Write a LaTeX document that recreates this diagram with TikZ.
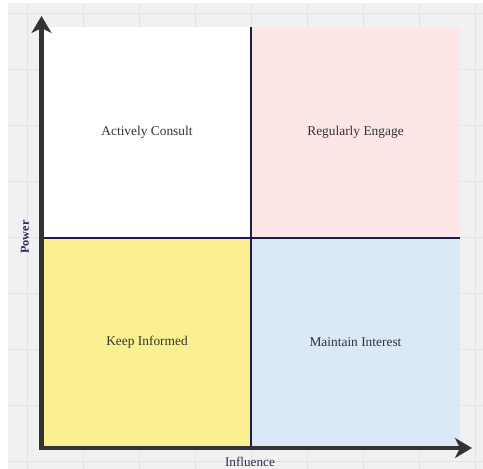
\documentclass[tikz,border=0pt]{standalone}
\usepackage{fontspec}
\setmainfont{Liberation Serif}
\usetikzlibrary{arrows.meta}
\definecolor{canvas}{HTML}{F1F1F1}
\definecolor{gridline}{HTML}{E3E3E3}
\definecolor{quadpink}{HTML}{FFE6E6}
\definecolor{quadyellow}{HTML}{FAF08F}
\definecolor{quadblue}{HTML}{DAE8F8}
\definecolor{divider}{HTML}{1C1C4C}
\definecolor{axisgray}{HTML}{333333}
\definecolor{labelnavy}{HTML}{2A2A5C}
\definecolor{quadtext}{HTML}{333333}
\tikzset{
  quad/.style={draw=none, rectangle, inner sep=0pt, outer sep=0pt,
    minimum width=208pt, minimum height=211pt,
    text=quadtext, font=\fontsize{13.4}{16}\selectfont},
  divline/.style={draw=divider, line width=2.5pt},
  axisline/.style={draw=axisgray, line width=4.5pt,
    -{Stealth[length=17pt,width=20pt,inset=5pt]}},
  axislabel/.style={text=labelnavy, inner sep=0pt}
}
\begin{document}
\begin{tikzpicture}[x=1pt,y=-1pt]
  \useasboundingbox (0,0) rectangle (483,469);
  % canvas with background grid
  \fill[white] (0,0) rectangle (483,469);
  \fill[canvas] (8,3) rectangle (483,469);
  \foreach \gx in {27,83,139,195,251,307,363,419,475}
    \draw[gridline, line width=1pt] (\gx,3) -- (\gx,469);
  \foreach \gy in {13,69,125,181,237,293,349,405,461}
    \draw[gridline, line width=1pt] (8,\gy) -- (483,\gy);

  % the four quadrants
  \node[quad, fill=white]      (ac) at (147,132.5) {Actively Consult};
  \node[quad, fill=quadpink]   (re) at (355.5,132.5) {Regularly Engage};
  \node[quad, fill=quadyellow] (ki) at (147,342) {Keep Informed};
  \node[quad, fill=quadblue]   (mi) at (355.5,342) {Maintain Interest};

  % dividers between the quadrants
  \draw[divline] (ac.north east) -- (ki.south east);
  \draw[divline] (ac.south west) -- (re.south east);

  % axes
  \coordinate (origin) at (41.5,448);
  \coordinate (ytip) at (41.5,16);
  \coordinate (xtip) at (472,448);
  \draw[axisline] (origin) -- (ytip);
  \draw[axisline] ([xshift=-2.25pt]origin) -- (xtip);

  % axis labels
  \node[axislabel, rotate=90, font=\fontsize{12.2}{14}\selectfont\bfseries]
    (power) at (25,237) {Power};
  \node[axislabel, font=\fontsize{13.2}{15}\selectfont]
    (influence) at (250,462) {Influence};
\end{tikzpicture}
\end{document}
